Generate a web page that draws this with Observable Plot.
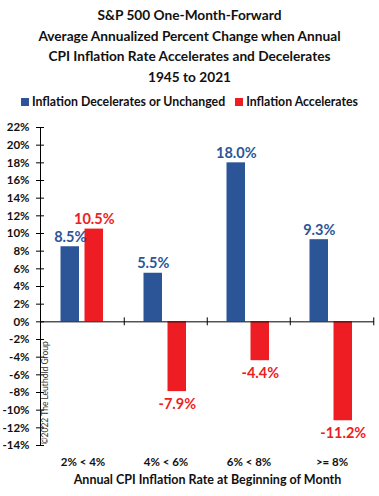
<!DOCTYPE html>
<html>
<head>
<meta charset="utf-8">
<script src="https://cdn.jsdelivr.net/npm/d3@7"></script>
<script src="https://cdn.jsdelivr.net/npm/@observablehq/plot@0.6"></script>
<style>
  html, body { margin: 0; padding: 0; background: #fff; }
  body { width: 379px; height: 496px; overflow: hidden; font-family: Lato, "Open Sans", sans-serif; }
  #title { text-align: center; font-weight: bold; font-size: 13.7px; line-height: 20.5px; color: #111; padding-top: 5px; }
  #legend { display: flex; justify-content: center; gap: 10px; font-weight: bold; font-size: 12.3px; color: #111; margin-top: 5px; height: 18px; align-items: center; }
  #legend span.sw { display: inline-block; width: 8px; height: 8px; margin-right: 3px; vertical-align: 0px; }
  #chart { position: absolute; top: 112px; left: 0; }
</style>
</head>
<body>
<div id="title">S&amp;P 500 One-Month-Forward<br>Average Annualized Percent Change when Annual<br>CPI Inflation Rate Accelerates and Decelerates<br>1945 to 2021</div>
<div id="legend"></div>
<div id="chart"></div>
<script>
const categories = ["2% < 4%", "4% < 6%", "6% < 8%", ">= 8%"];
const seriesNames = ["Inflation Decelerates or Unchanged", "Inflation Accelerates"];
const decelerates = [8.5, 5.5, 18.0, 9.3];
const accelerates = [10.5, -7.9, -4.4, -11.2];
const yTicks = [-14, -12, -10, -8, -6, -4, -2, 0, 2, 4, 6, 8, 10, 12, 14, 16, 18, 20, 22];
const colors = ["#2B5597", "#EE1D23"];
const xTitle = "Annual CPI Inflation Rate at Beginning of Month";
const credit = "©2022 The Leuthold Group";

const legend = document.getElementById("legend");
seriesNames.forEach((s, i) => {
  const d = document.createElement("div");
  d.innerHTML = `<span class="sw" style="background:${colors[i]}"></span>${s}`;
  legend.appendChild(d);
});

const dec = categories.map((c, i) => ({category: c, value: decelerates[i]}));
const acc = categories.map((c, i) => ({category: c, value: accelerates[i]}));

const width = 379, height = 384, marginLeft = 40, marginRight = 5;
const band = (width - marginLeft - marginRight) / categories.length;
const fmt = v => v.toFixed(1) + "%";
const font = "Lato, 'Open Sans', sans-serif";
const labelStyle = {x: "category", y: "value", text: d => fmt(d.value), fontWeight: "bold", fontSize: 14.5};

const chart = Plot.plot({
  width, height,
  marginLeft, marginRight,
  marginTop: 15, marginBottom: 51,
  style: {fontFamily: font, background: "transparent"},
  x: {domain: categories, padding: 0, label: null},
  y: {domain: [-14, 22], label: null},
  marks: [
    Plot.barY(dec, {x: "category", y: "value", fill: colors[0], insetLeft: 19.5, insetRight: band - 38.5}),
    Plot.barY(acc, {x: "category", y: "value", fill: colors[1], insetLeft: 43.5, insetRight: band - 62.5}),
    Plot.ruleY([0], {stroke: "#000", strokeWidth: 1}),
    Plot.ruleX(categories.slice(1), {x: d => d, dx: -band / 2, y1: -0.45, y2: 0.45, stroke: "#000"}),
    Plot.ruleX(categories.slice(-1), {x: d => d, dx: band / 2, y1: -0.45, y2: 0.45, stroke: "#000"}),
    Plot.frame({anchor: "left", stroke: "#000"}),
    Plot.axisY({ticks: yTicks, tickSize: 4, tickPadding: 7, tickFormat: d => d + "%", fontWeight: "bold", fontSize: 11.5, fill: "#111", stroke: "#000", label: null}),
    Plot.axisY({ticks: yTicks, tickSize: -4, text: null, stroke: "#000", label: null}),
    Plot.axisX({tickSize: 0, tickPadding: 12, fontWeight: "bold", fontSize: 11.5, fill: "#111", label: null}),
    Plot.text([xTitle], {frameAnchor: "bottom", dy: 38, fontWeight: "bold", fontSize: 12.5, fill: "#111"}),
    Plot.text([credit], {frameAnchor: "bottom-left", rotate: -90, textAnchor: "start", dx: 7, dy: -1, fontSize: 8.5, fill: "#333"}),
    Plot.text(dec.filter(d => d.value >= 0), {...labelStyle, dx: 29 - band / 2, lineAnchor: "bottom", dy: -5, fill: colors[0]}),
    Plot.text(acc.filter(d => d.value >= 0), {...labelStyle, dx: 53 - band / 2, lineAnchor: "bottom", dy: -5, fill: colors[1]}),
    Plot.text(acc.filter(d => d.value < 0), {...labelStyle, dx: 53 - band / 2, lineAnchor: "top", dy: 7, fill: colors[1]})
  ]
});
document.getElementById("chart").appendChild(chart);
</script>
</body>
</html>
